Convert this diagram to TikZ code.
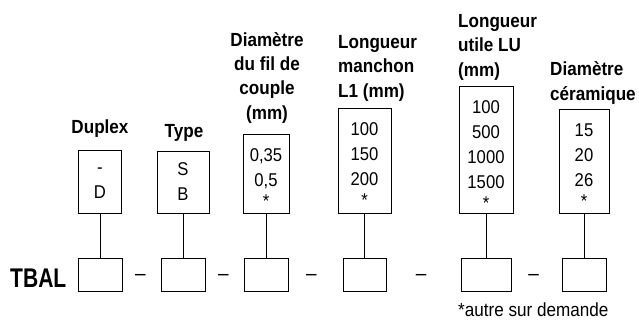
\documentclass[tikz,border=0pt]{standalone}
\usepackage{fontspec}
\setmainfont{Liberation Sans}[FakeStretch=0.9]
\newfontfamily\tbalfont{Liberation Sans}[FakeStretch=0.78]
\usepackage{tikz}

\begin{document}
\begin{tikzpicture}[x=1pt,y=-1pt,
	case/.style = {draw,line width=0.8pt,inner sep=0pt},
	titre/.style = {font=\fontsize{19}{24.3}\selectfont\bfseries,inner sep=0pt},
	valeurs/.style = {font=\fontsize{18.5}{25}\selectfont,align=center,inner sep=0pt,anchor=base},
	tiret/.style = {font=\fontsize{21}{21}\selectfont,inner sep=0pt,anchor=base}
	]
	\useasboundingbox (0,0) rectangle (639,321);
	%TITRES
	\node[titre,anchor=base] (n1) at (100,133) {Duplex};
	\node[titre,anchor=base] (n2) at (184,137) {Type};
	\node[titre,align=center,anchor=base] (n3) at (267,119) {Diamètre\\du fil de\\couple\\(mm)};
	\node[titre,align=left,anchor=base west] (n4) at (338,97) {Longueur\\manchon\\L1 (mm)};
	\node[titre,align=left,anchor=base west] (n5) at (458,76) {Longueur\\utile LU\\(mm)};
	\node[titre,align=left,anchor=base west] (n6) at (550,100) {Diamètre\\céramique};
	%CASES DU HAUT
	\node[case,minimum width=43pt,minimum height=63pt] (t1) at (100,181.5) {};
	\node[case,minimum width=52pt,minimum height=62pt] (t2) at (183,182) {};
	\node[case,minimum width=46pt,minimum height=79pt] (t3) at (266,173.5) {};
	\node[case,minimum width=53pt,minimum height=105pt] (t4) at (364.5,160.5) {};
	\node[case,minimum width=54pt,minimum height=127pt] (t5) at (486,149.5) {};
	\node[case,minimum width=50pt,minimum height=104pt] (t6) at (584,161) {};
	%Valeurs
	\node[valeurs] (v1) at (100,198) {-\\D};
	\node[valeurs] (v2) at (183,200) {S\\B};
	\node[valeurs] (v3) at (266,207) {0,35\\0,5\\[-4pt]*};
	\node[valeurs] (v4) at (364.5,206) {100\\150\\200\\[-4pt]*};
	\node[valeurs] (v5) at (486,209) {100\\500\\1000\\1500\\[-4pt]*};
	\node[valeurs] (v6) at (584,207) {15\\20\\26\\[-4pt]*};
	%CASES DU BAS
	\node[inner sep=0pt,font=\tbalfont\bfseries\fontsize{27}{27}\selectfont,anchor=base west] (tbal) at (10,287) {TBAL};
	\node[case,minimum width=44pt,minimum height=33pt] (b1) at (100,274.5) {};
	\node[case,minimum width=44pt,minimum height=33pt] (b2) at (183,274.5) {};
	\node[case,minimum width=44pt,minimum height=33pt] (b3) at (266,274.5) {};
	\node[case,minimum width=43pt,minimum height=33pt] (b4) at (364.5,274.5) {};
	\node[case,minimum width=50pt,minimum height=33pt] (b5) at (486,274.5) {};
	\node[case,minimum width=44pt,minimum height=33pt] (b6) at (584,274.5) {};
	\node[tiret] (d1) at (140.5,280) {--};
	\node[tiret] (d2) at (223.5,280) {--};
	\node[tiret] (d3) at (311.5,280) {--};
	\node[tiret] (d4) at (421,280) {--};
	\node[tiret] (d5) at (533.5,280) {--};
	%Liaisons
	\draw[line width=0.8pt] (t1.south) -- (b1.north);
	\draw[line width=0.8pt] (t2.south) -- (b2.north);
	\draw[line width=0.8pt] (t3.south) -- (b3.north);
	\draw[line width=0.8pt] (t4.south) -- (b4.north);
	\draw[line width=0.8pt] (t5.south) -- (b5.north);
	\draw[line width=0.8pt] (t6.south) -- (b6.north);
	%Note
	\node[inner sep=0pt,font=\fontsize{19}{19}\selectfont,anchor=base west] (note) at (458,316) {*autre sur demande};
\end{tikzpicture}
\end{document}
